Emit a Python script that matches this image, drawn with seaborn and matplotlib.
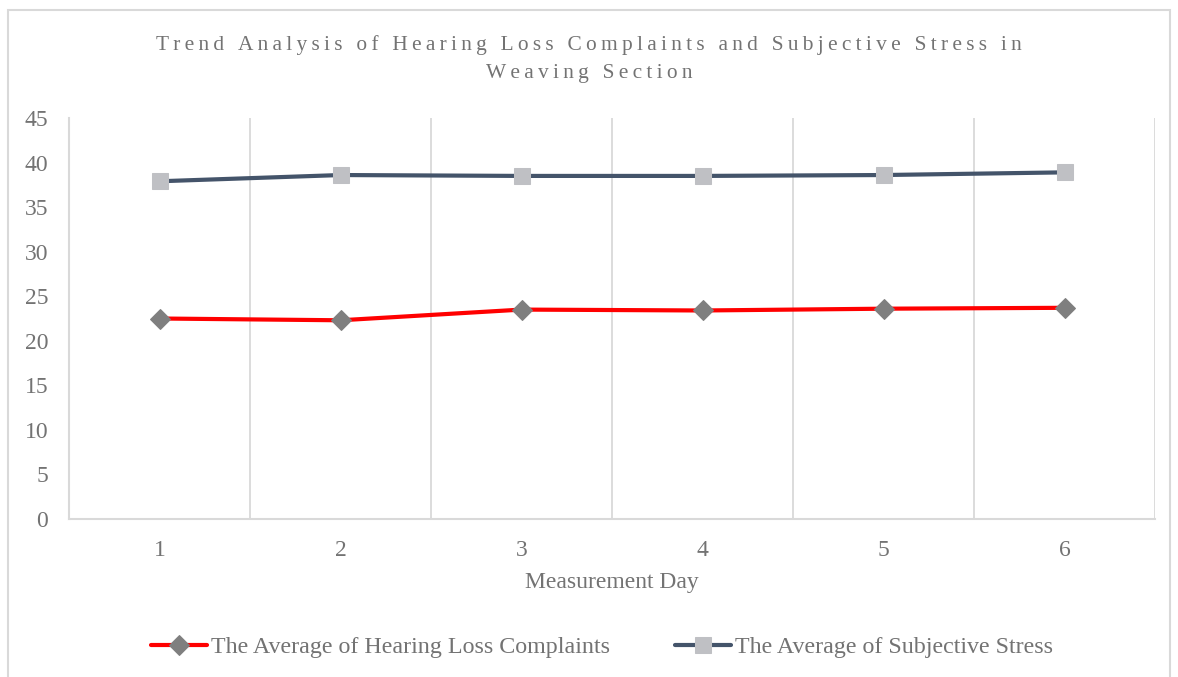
import matplotlib
matplotlib.use("Agg")
import matplotlib.pyplot as plt
import matplotlib.patches as patches
import seaborn as sns
import pandas as pd

# Data
days = [1, 2, 3, 4, 5, 6]
hearing_loss = [22.5, 22.3, 23.5, 23.4, 23.6, 23.7]
subjective_stress = [37.9, 38.6, 38.5, 38.5, 38.6, 38.9]
day_labels = ["1", "2", "3", "4", "5", "6"]
y_ticks = [0, 5, 10, 15, 20, 25, 30, 35, 40, 45]

series_names = ["The Average of Hearing Loss Complaints", "The Average of Subjective Stress"]
title_lines = ["Trend Analysis of Hearing Loss Complaints and Subjective Stress in",
               "Weaving Section"]

sns.set_theme(style="white")
plt.rcParams['font.family'] = ['Liberation Serif', 'DejaVu Serif']

text_col = "#737373"
grid_col = "#d9d9d9"

df = pd.DataFrame({"pos": range(len(days)), "hear": hearing_loss, "stress": subjective_stress})

fig = plt.figure(figsize=(11.78, 6.77), dpi=100)
ax = fig.add_axes([69 / 1178, 1 - 519 / 677, (1155 - 69) / 1178, (519 - 118) / 677])

sns.lineplot(data=df, x="pos", y="hear", ax=ax, color="#ff0000", linewidth=3,
             marker="D", markersize=10, markerfacecolor="#7f7f7f", markeredgecolor="#7f7f7f",
             label=series_names[0])
sns.lineplot(data=df, x="pos", y="stress", ax=ax, color="#44546a", linewidth=3,
             marker="s", markersize=12, markerfacecolor="#bfc0c4", markeredgecolor="#bfc0c4",
             label=series_names[1])

ax.set_xlim(-0.5, len(days) - 0.5)
ax.set_ylim(0, 45)
ax.set_yticks(y_ticks)
ax.set_yticklabels([str(v) for v in y_ticks])
ax.set_xticks(range(len(days)))
ax.set_xticklabels(day_labels)

# vertical gridlines at category boundaries (Excel style)
for b in [i + 0.5 for i in range(len(days))]:
    ax.axvline(b, color=grid_col, linewidth=1.3, zorder=0)

for side in ["top", "right"]:
    ax.spines[side].set_visible(False)
for side in ["left", "bottom"]:
    ax.spines[side].set_color(grid_col)
    ax.spines[side].set_linewidth(1.5)

ax.tick_params(axis="both", length=0, labelsize=17, labelcolor=text_col)
ax.tick_params(axis="y", pad=15)
ax.tick_params(axis="x", pad=15)
ax.set_xlabel("Measurement Day", fontsize=17, color=text_col, labelpad=8)
ax.set_ylabel("")

# letter-spaced title, like the original
spaced = "\n".join("\u2009".join(line) for line in title_lines)
fig.text(0.5, 1 - 59 / 677, spaced, ha="center", va="center", fontsize=15.4,
         color=text_col, linespacing=1.6)

ax.legend(loc="center", bbox_to_anchor=(0.491, -0.32), ncol=2, frameon=False,
          fontsize=17.3, labelcolor=text_col, handlelength=2.33, handletextpad=0.17,
          columnspacing=2.7)

# outer chart border
fig.patches.append(patches.Rectangle((8 / 1178, -0.01), 1162 / 1178, 1 - 10 / 677 + 0.01,
                                     transform=fig.transFigure, fill=False,
                                     edgecolor=grid_col, linewidth=1.5))

fig.savefig("out.png", dpi=100)
